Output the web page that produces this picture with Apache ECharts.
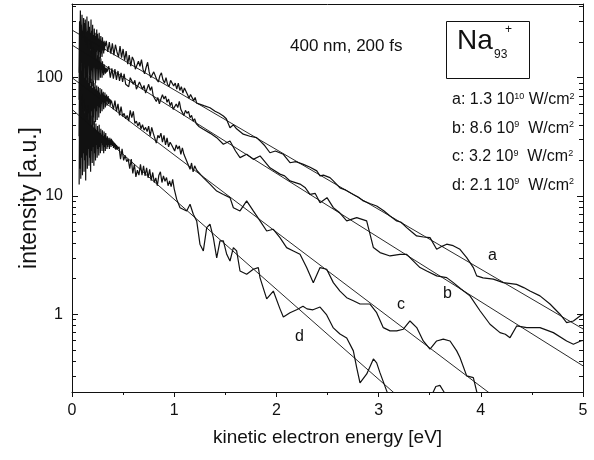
<!DOCTYPE html>
<html><head><meta charset="utf-8">
<script src="https://cdn.jsdelivr.net/npm/echarts@6/dist/echarts.min.js"></script>
<style>html,body{margin:0;padding:0;background:#fff}#c{width:594px;height:460px}</style>
</head><body><div id="c"></div>
<script>
// Noisy low-energy part of each spectrum: intensities sampled every 0.004 eV from 0.07 eV
const denseStartE = 0.07;
const denseStepE = 0.004;
const aDense = [110,300,170,370,140,280,220,340,130,250,200,320,150,290,120,310,210,240,140,330,170,250,125,300,185,270,140,240,175,310,150,250,130,280,160,230,120,260,170,240,135,225,165,255,140,235,170,215,130,240,165,210,145,225,160,205,150,220,170,200,160,205,170,198,185];
const bDense = [65,240,100,265,80,210,140,250,70,220,95,245,85,200,130,230,75,190,100,220,90,180,130,210,80,190,105,170,90,200,115,160,85,180,125,165,95,175,130,150,90,165,125,145,95,155,120,140,95,150,125,135,100,145,120,130,100,138,122,125,105,130,120,124,108,122,110,120,112,116];
const cDense = [32,125,38,140,28,115,48,130,26,105,42,120,30,100,52,125,35,95,45,110,28,100,50,90,33,105,42,85,36,98,52,92,38,82,46,95,40,84,55,90,42,80,52,86,44,78,58,84,46,75,56,82,50,72,60,80,52,74,62,76,54,71,62,75,56,70,64,72,58,69,63,70,60,67,62,66,58,65,61,64];
const dDense = [12.5,68,17,78,14,58,21,72,15,52,23,65,16,50,20,60,13.5,55,22,47,17,58,25,44,18,52,21,42,16,48,24,40,19,46,26,38,18,43,23,37,20,41,27,36,21,39,25,35,22,40,26,34,23,37,28,33,24,36,27,32,23,35,26,33,24,34,27,31,25,32,26,31,27,30,25,31,27,30,26,30.5,27,29.5,26.5,29,25.5,28.5,26,28,25,27.5,24.5,27,25,26.5,25];

// Rest of each spectrum: [energy eV, intensity]
const aRest = [[0.335,205],[0.35,165],[0.365,200],[0.38,160],[0.395,195],[0.41,155],[0.425,190],[0.44,165],[0.455,150],[0.47,185],[0.485,148],[0.50,175],[0.515,140],[0.53,168],[0.545,130],[0.56,155],[0.575,125],[0.59,150],[0.605,140],[0.62,118],[0.635,115],[0.65,138],[0.665,125],[0.68,142],[0.695,118],[0.71,108],[0.725,122],[0.74,135],[0.755,112],[0.77,100],[0.785,98],[0.80,112],[0.815,115],[0.83,96],[0.845,92],[0.86,104],[0.875,110],[0.89,96],[0.905,90],[0.92,100],[0.935,88],[0.95,84],[0.965,95],[0.98,94],[0.995,85],[1.01,90],[1.025,80],[1.04,90],[1.055,78],[1.07,84],[1.085,74],[1.10,82],[1.115,82],[1.13,72],[1.145,67],[1.16,72],[1.175,71],[1.19,64],[1.205,68],[1.22,61],[1.235,60],
[1.29,58],[1.35,55.7],[1.40,52],[1.44,50],[1.481,47.5],[1.51,45],[1.546,37.8],[1.58,40],[1.61,37],[1.676,33.3],[1.74,32],[1.807,31.1],[1.840,29.2],[1.88,27],[1.937,23.2],[1.99,24],[2.068,22.5],[2.133,19.1],[2.19,19.5],[2.264,18.5],[2.33,17.5],[2.395,16.3],[2.427,14.8],[2.46,15],[2.524,14.3],[2.557,13.4],[2.622,11.7],[2.68,11.2],[2.753,10.3],[2.80,9.8],[2.851,9.08],[2.92,8.6],[2.981,8.23],[3.05,7.5],[3.112,6.78],[3.177,6.15],[3.22,6.0],[3.275,5.40],[3.32,5.0],[3.372,4.59],[3.44,4.5],[3.503,4.44],[3.568,3.54],[3.62,3.75],[3.666,3.91],[3.73,3.8],[3.796,3.54],[3.862,3.01],[3.927,2.48],[3.960,2.11],[4.022,2.03],[4.122,1.98],[4.220,1.85],[4.350,1.79],[4.42,1.68],[4.481,1.57],[4.579,1.43],[4.677,1.22],[4.775,1.00],[4.840,0.849],[4.906,0.877],[4.971,0.968],[5.0,1.0]];

const bRest = [[0.36,125],[0.375,100],[0.39,120],[0.405,98],[0.42,118],[0.435,96],[0.45,114],[0.465,94],[0.48,110],[0.495,92],[0.51,108],[0.525,88],[0.54,86],[0.555,84],[0.57,100],[0.585,102],[0.60,88],[0.615,95],[0.63,80],[0.645,80],[0.66,92],[0.675,95],[0.69,80],[0.705,86],[0.72,74],[0.735,76],[0.75,88],[0.765,78],[0.78,84],[0.795,70],[0.81,72],[0.825,63],[0.84,68],[0.855,60],[0.87,66],[0.885,72],[0.90,66],[0.915,70],[0.93,62],[0.945,66],[0.96,58],[0.975,62],[0.99,54],[1.005,55],[1.02,60],[1.035,56],[1.05,63],[1.065,54],[1.08,56],[1.095,48],[1.11,53],[1.125,50],[1.14,52],[1.155,46],[1.17,48],[1.185,43],[1.20,45],[1.215,41],[1.23,41.5],[1.245,38.5],
[1.285,36.6],[1.35,34],[1.416,31.1],[1.481,27.4],[1.546,29.2],[1.60,24],[1.644,21.1],[1.709,22.5],[1.774,20.4],[1.840,21.8],[1.937,17.3],[2.035,15.3],[2.08,14.8],[2.133,13.4],[2.231,12.6],[2.28,11.8],[2.329,10.3],[2.38,10.5],[2.427,8.77],[2.495,9.68],[2.557,7.96],[2.62,7.2],[2.688,6.15],[2.786,6.56],[2.883,6.15],[2.916,4.75],[2.949,3.66],[3.014,3.32],[3.112,3.11],[3.209,3.21],[3.275,3.21],[3.307,3.01],[3.405,2.48],[3.471,2.32],[3.568,2.11],[3.666,2.04],[3.731,1.85],[3.80,1.65],[3.894,1.43],[3.992,1.07],[4.090,0.823],[4.188,0.699],[4.24,0.677],[4.286,0.634],[4.351,0.796],[4.449,0.771],[4.579,0.771],[4.710,0.699],[4.840,0.594],[4.906,0.557],[4.977,0.594],[5.0,0.60]];

const cRest = [[0.39,66],[0.405,54],[0.42,64],[0.435,52],[0.45,60],[0.465,48],[0.48,57],[0.495,47],[0.51,50],[0.525,45],[0.54,48],[0.555,43],[0.57,53],[0.585,46],[0.60,52],[0.615,41],[0.63,43],[0.645,39],[0.66,42],[0.675,37],[0.69,40],[0.705,36],[0.72,38],[0.735,35],[0.75,39],[0.765,32],[0.78,38],[0.795,34],[0.81,33.5],[0.825,28],[0.84,32.5],[0.855,31],[0.87,34],[0.885,28.5],[0.90,32.5],[0.915,27],[0.93,31],[0.945,26],[0.96,28.5],[0.975,27],[0.99,28],[1.005,24],[1.02,27],[1.035,25],[1.05,26.5],[1.065,22.5],[1.08,25.5],[1.095,22.5],[1.11,23],[1.125,19.5],[1.14,20],[1.155,16.8],[1.17,19],[1.185,16],[1.20,18],[1.22,16.5],
[1.285,14.3],[1.350,12.6],[1.416,11.0],[1.481,10.3],[1.546,9.68],[1.579,7.96],[1.644,7.47],[1.709,9.08],[1.774,7.47],[1.840,6.15],[1.905,5.06],[1.970,5.23],[2.035,4.44],[2.100,3.66],[2.166,3.43],[2.231,3.21],[2.296,2.48],[2.361,1.85],[2.427,2.48],[2.492,2.40],[2.557,1.85],[2.622,1.57],[2.688,1.38],[2.753,1.30],[2.818,1.22],[2.916,1.22],[2.981,1.03],[3.046,0.770],[3.112,0.723],[3.177,0.723],[3.242,0.747],[3.307,0.877],[3.373,0.771],[3.437,0.594],[3.503,0.506],[3.568,0.594],[3.633,0.615],[3.699,0.594],[3.764,0.490],[3.796,0.430],[3.862,0.301],[3.927,0.291],[3.963,0.216],[4.0,0.19],[4.1,0.17]];

const dRest = [[0.46,26],[0.475,20.5],[0.49,25],[0.505,20],[0.52,22],[0.535,19.5],[0.55,20.5],[0.565,17],[0.58,20.5],[0.595,15.5],[0.61,18.5],[0.625,14.5],[0.64,16.5],[0.655,15],[0.67,18.5],[0.685,15],[0.70,18],[0.715,14.8],[0.73,17.3],[0.745,14.2],[0.76,16.8],[0.775,13.5],[0.79,15.8],[0.805,13],[0.82,14.2],[0.835,12.2],[0.85,15],[0.865,16],[0.88,13],[0.895,14.8],[0.91,13.3],[0.925,14.3],[0.94,12.2],[0.955,13.4],[0.97,12],[0.985,13.8],[1.0,11.5],[1.013,11.8],[1.024,9.4],
[1.057,7.96],[1.122,7.47],[1.155,8.51],[1.187,7.0],[1.220,6.15],[1.252,3.91],[1.285,3.43],[1.318,5.40],[1.350,5.77],[1.383,4.44],[1.416,2.99],[1.448,4.17],[1.481,4.17],[1.514,3.21],[1.546,2.82],[1.579,3.66],[1.611,3.43],[1.644,2.32],[1.709,2.18],[1.774,2.40],[1.823,2.48],[1.840,2.03],[1.905,1.35],[1.970,1.57],[2.035,1.11],[2.068,0.949],[2.133,1.03],[2.198,1.09],[2.260,1.17],[2.299,1.11],[2.358,1.09],[2.427,1.15],[2.492,0.987],[2.557,0.766],[2.622,0.681],[2.688,0.630],[2.753,0.490],[2.786,0.352],[2.818,0.263],[2.884,0.313],[2.949,0.419],[2.981,0.388],[3.014,0.319],[3.079,0.225],[3.112,0.19],[3.3,0.15],[3.50,0.19],[3.56,0.245],[3.60,0.25],[3.64,0.22],[3.70,0.17],[3.8,0.15]];

// Exponential fits (straight on the log axis): [energy, intensity] end points
const fitA = [[0,253],[5,0.751]];
const fitB = [[0,189],[5,0.366]];
const fitC = [[0,100],[4.3,0.156]];
const fitD = [[0,54],[3.4,0.14]];

const xTickValues = [0,1,2,3,4,5];
const yMajorValues = [1,10,100];
const yMinorValues = [0.3,0.4,0.5,0.6,0.7,0.8,0.9,2,3,4,5,6,7,8,9,20,30,40,50,60,70,80,90,200,300,400];
const legendLines = [['a: 1.3 10','10',' W/cm'],['b: 8.6 10','9','  W/cm'],['c: 3.2 10','9','  W/cm'],['d: 2.1 10','9','  W/cm']];
const curveNames = ['a','b','c','d'];

function spectrum(dense, rest) {
  return dense.map((v, i) => [+(denseStartE + i * denseStepE).toFixed(4), v]).concat(rest);
}
const curveA = spectrum(aDense, aRest);
const curveB = spectrum(bDense, bRest);
const curveC = spectrum(cDense, cRest);
const curveD = spectrum(dDense, dRest);

const FONT = 'Liberation Sans, Arial, Helvetica, sans-serif';
const INK = '#111111';
const chart = echarts.init(document.getElementById('c'));

function yAx(position, values, len, showLine, withLabel) {
  return {
    type: 'log', logBase: 10, min: 0.22, max: 420, position: position,
    axisLine: {show: showLine, lineStyle: {color: INK, width: 1}},
    axisTick: {show: true, inside: true, length: len, customValues: values, lineStyle: {color: INK, width: 1}},
    axisLabel: withLabel ? {show: true, customValues: yMajorValues, fontSize: 16, color: INK, fontFamily: FONT, margin: 9} : {show: false},
    splitLine: {show: false},
    name: withLabel ? 'intensity [a.u.]' : '',
    nameLocation: 'middle', nameGap: 31, nameMoveOverlap: false,
    nameTextStyle: {fontSize: 23, color: INK, fontFamily: FONT}
  };
}

function line(data, width) {
  return {type: 'line', data: data, showSymbol: false, symbol: 'none', clip: true,
    lineStyle: {color: INK, width: width}, silent: true, animation: false};
}

const legendGraphics = legendLines.map((l, i) => ({
  type: 'text', left: 452, top: 92 + i * 28.5,
  style: {
    text: '{t|' + l[0] + '}{s|' + l[1] + '}{t|' + l[2] + '}{s|2}',
    rich: {t: {fontSize: 16, fontFamily: FONT, fill: INK}, s: {fontSize: 9, fontFamily: FONT, fill: INK, verticalAlign: 'top'}}
  }
}));
const namePos = [[488, 248], [443, 286], [397, 297], [295, 329]];
const nameGraphics = curveNames.map((n, i) => ({
  type: 'text', left: namePos[i][0], top: namePos[i][1],
  style: {text: n, fontSize: 16, fontFamily: FONT, fill: INK}
}));

chart.setOption({
  animation: false,
  grid: {left: 72, right: 11, top: 4, bottom: 68},
  xAxis: [{
    type: 'value', min: 0, max: 5, interval: 1, position: 'bottom',
    axisLine: {lineStyle: {color: INK, width: 1}},
    axisTick: {show: true, inside: false, length: 5, lineStyle: {color: INK}},
    minorTick: {show: true, splitNumber: 2, length: 3, lineStyle: {color: INK}},
    axisLabel: {fontSize: 16, color: INK, fontFamily: FONT, margin: 11,
      formatter: v => xTickValues.indexOf(v) >= 0 ? String(v) : ''},
    splitLine: {show: false},
    name: 'kinetic electron energy [eV]', nameLocation: 'middle', nameGap: 36,
    nameTextStyle: {fontSize: 19, color: INK, fontFamily: FONT}
  }, {
    type: 'value', min: 0, max: 5, position: 'top',
    axisLine: {show: true, lineStyle: {color: INK, width: 1}},
    axisTick: {show: false}, axisLabel: {show: false}, splitLine: {show: false}
  }],
  yAxis: [
    yAx('left', yMajorValues, 6, true, true),
    yAx('left', yMinorValues, 4, false, false),
    yAx('right', yMajorValues, 6, true, false),
    yAx('right', yMinorValues, 4, false, false)
  ],
  series: [
    line(curveA, 1.2), line(curveB, 1.2), line(curveC, 1.2), line(curveD, 1.2),
    line(fitA, 0.9), line(fitB, 0.9), line(fitC, 0.9), line(fitD, 0.9)
  ],
  graphic: [
    {type: 'text', left: 290, top: 38, style: {text: '400 nm, 200 fs', fontSize: 17, fontFamily: FONT, fill: INK}},
    {type: 'rect', left: 444, top: 19, shape: {width: 83, height: 57}, style: {fill: 'none', stroke: INK, lineWidth: 1}},
    {type: 'text', left: 457, top: 27, style: {text: 'Na', fontSize: 28, fontFamily: FONT, fill: INK}},
    {type: 'text', left: 494, top: 49, style: {text: '93', fontSize: 12, fontFamily: FONT, fill: INK}},
    {type: 'text', left: 505, top: 24, style: {text: '+', fontSize: 12, fontFamily: FONT, fill: INK}},
    ...legendGraphics,
    ...nameGraphics
  ]
});
</script></body></html>
